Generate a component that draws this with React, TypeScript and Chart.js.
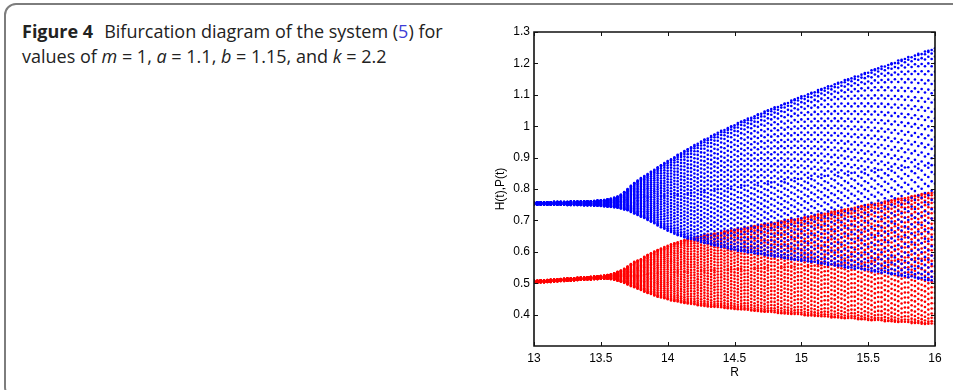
import React, { useEffect, useRef } from 'react';
import { Chart, registerables } from 'chart.js';

Chart.register(...registerables);

// Bifurcation parameter R (one column of orbit points per value)
const R_VALUES = [
  13.000, 13.025, 13.050, 13.075, 13.100, 13.125, 13.150, 13.175, 13.200, 13.225,
  13.250, 13.275, 13.300, 13.325, 13.350, 13.375, 13.400, 13.425, 13.450, 13.475,
  13.500, 13.525, 13.550, 13.575, 13.600, 13.625, 13.650, 13.675, 13.700, 13.725,
  13.750, 13.775, 13.800, 13.825, 13.850, 13.875, 13.900, 13.925, 13.950, 13.975,
  14.000, 14.025, 14.050, 14.075, 14.100, 14.125, 14.150, 14.175, 14.200, 14.225,
  14.250, 14.275, 14.300, 14.325, 14.350, 14.375, 14.400, 14.425, 14.450, 14.475,
  14.500, 14.525, 14.550, 14.575, 14.600, 14.625, 14.650, 14.675, 14.700, 14.725,
  14.750, 14.775, 14.800, 14.825, 14.850, 14.875, 14.900, 14.925, 14.950, 14.975,
  15.000, 15.025, 15.050, 15.075, 15.100, 15.125, 15.150, 15.175, 15.200, 15.225,
  15.250, 15.275, 15.300, 15.325, 15.350, 15.375, 15.400, 15.425, 15.450, 15.475,
  15.500, 15.525, 15.550, 15.575, 15.600, 15.625, 15.650, 15.675, 15.700, 15.725,
  15.750, 15.775, 15.800, 15.825, 15.850, 15.875, 15.900, 15.925, 15.950, 15.975,
  16.000,
];

// H(t): upper / lower extent of the orbit at each R
const H_UPPER = [
  0.758, 0.758, 0.758, 0.758, 0.758, 0.758, 0.759, 0.759, 0.759, 0.759,
  0.759, 0.760, 0.760, 0.760, 0.760, 0.761, 0.761, 0.761, 0.762, 0.763,
  0.764, 0.765, 0.767, 0.769, 0.772, 0.776, 0.782, 0.790, 0.800, 0.810,
  0.819, 0.827, 0.835, 0.842, 0.848, 0.855, 0.862, 0.869, 0.876, 0.883,
  0.889, 0.896, 0.902, 0.909, 0.915, 0.921, 0.927, 0.934, 0.940, 0.946,
  0.952, 0.958, 0.963, 0.969, 0.974, 0.980, 0.985, 0.990, 0.995, 1.000,
  1.005, 1.010, 1.015, 1.020, 1.024, 1.029, 1.033, 1.038, 1.042, 1.047,
  1.051, 1.056, 1.060, 1.064, 1.068, 1.073, 1.077, 1.082, 1.086, 1.091,
  1.095, 1.099, 1.103, 1.107, 1.111, 1.115, 1.119, 1.123, 1.127, 1.131,
  1.135, 1.139, 1.143, 1.147, 1.150, 1.154, 1.158, 1.162, 1.166, 1.170,
  1.174, 1.178, 1.182, 1.186, 1.190, 1.194, 1.197, 1.201, 1.205, 1.209,
  1.212, 1.216, 1.220, 1.224, 1.227, 1.231, 1.234, 1.238, 1.241, 1.245,
  1.248,
];
const H_LOWER = [
  0.750, 0.750, 0.750, 0.750, 0.750, 0.750, 0.750, 0.750, 0.750, 0.750,
  0.749, 0.749, 0.749, 0.749, 0.749, 0.748, 0.748, 0.748, 0.747, 0.747,
  0.746, 0.745, 0.744, 0.743, 0.742, 0.740, 0.738, 0.735, 0.732, 0.727,
  0.722, 0.717, 0.712, 0.707, 0.701, 0.696, 0.690, 0.684, 0.678, 0.673,
  0.667, 0.662, 0.657, 0.653, 0.649, 0.646, 0.642, 0.640, 0.638, 0.634,
  0.630, 0.628, 0.625, 0.623, 0.620, 0.618, 0.615, 0.613, 0.610, 0.608,
  0.605, 0.603, 0.602, 0.600, 0.598, 0.596, 0.594, 0.593, 0.591, 0.590,
  0.588, 0.586, 0.584, 0.583, 0.581, 0.579, 0.577, 0.576, 0.574, 0.573,
  0.571, 0.570, 0.568, 0.567, 0.565, 0.564, 0.562, 0.560, 0.558, 0.557,
  0.555, 0.554, 0.552, 0.551, 0.549, 0.548, 0.546, 0.545, 0.543, 0.542,
  0.540, 0.539, 0.537, 0.535, 0.533, 0.532, 0.530, 0.528, 0.526, 0.525,
  0.523, 0.521, 0.519, 0.518, 0.516, 0.514, 0.512, 0.511, 0.509, 0.507,
  0.505,
];

// P(t): upper / lower extent of the orbit at each R
const P_UPPER = [
  0.508, 0.508, 0.509, 0.509, 0.510, 0.511, 0.512, 0.512, 0.513, 0.514,
  0.515, 0.515, 0.516, 0.517, 0.518, 0.518, 0.519, 0.520, 0.521, 0.522,
  0.523, 0.524, 0.526, 0.528, 0.532, 0.536, 0.540, 0.546, 0.553, 0.561,
  0.568, 0.573, 0.577, 0.584, 0.590, 0.596, 0.601, 0.606, 0.611, 0.616,
  0.620, 0.624, 0.627, 0.631, 0.634, 0.637, 0.640, 0.643, 0.645, 0.648,
  0.650, 0.653, 0.655, 0.657, 0.659, 0.661, 0.663, 0.665, 0.667, 0.669,
  0.671, 0.673, 0.675, 0.677, 0.679, 0.681, 0.682, 0.684, 0.686, 0.688,
  0.690, 0.692, 0.693, 0.695, 0.697, 0.699, 0.701, 0.703, 0.704, 0.706,
  0.708, 0.710, 0.712, 0.714, 0.716, 0.719, 0.721, 0.723, 0.725, 0.727,
  0.729, 0.731, 0.733, 0.735, 0.737, 0.740, 0.742, 0.744, 0.746, 0.748,
  0.750, 0.752, 0.754, 0.756, 0.758, 0.760, 0.762, 0.765, 0.767, 0.769,
  0.771, 0.773, 0.775, 0.777, 0.779, 0.782, 0.784, 0.786, 0.788, 0.790,
  0.792,
];
const P_LOWER = [
  0.502, 0.502, 0.503, 0.503, 0.504, 0.504, 0.505, 0.506, 0.507, 0.507,
  0.508, 0.508, 0.509, 0.510, 0.511, 0.511, 0.512, 0.512, 0.513, 0.513,
  0.514, 0.514, 0.514, 0.513, 0.511, 0.508, 0.505, 0.501, 0.496, 0.491,
  0.487, 0.482, 0.478, 0.473, 0.469, 0.465, 0.461, 0.457, 0.454, 0.451,
  0.448, 0.445, 0.443, 0.441, 0.439, 0.437, 0.435, 0.433, 0.432, 0.430,
  0.429, 0.427, 0.426, 0.425, 0.424, 0.423, 0.422, 0.421, 0.420, 0.419,
  0.418, 0.417, 0.416, 0.415, 0.414, 0.413, 0.412, 0.411, 0.410, 0.409,
  0.408, 0.407, 0.406, 0.405, 0.404, 0.403, 0.403, 0.402, 0.401, 0.400,
  0.399, 0.398, 0.397, 0.396, 0.396, 0.395, 0.394, 0.393, 0.392, 0.391,
  0.391, 0.390, 0.389, 0.388, 0.388, 0.387, 0.386, 0.385, 0.385, 0.384,
  0.383, 0.382, 0.382, 0.381, 0.380, 0.379, 0.379, 0.378, 0.377, 0.376,
  0.376, 0.375, 0.374, 0.373, 0.373, 0.372, 0.371, 0.370, 0.370, 0.369,
  0.368,
];

// relative positions of the sampled orbit points inside a band (0 = lower edge, 1 = upper edge);
// four sets that take turns from one column to the next
const BAND_POS_0 = [
  0, 0.012, 0.035, 0.065, 0.1, 0.14, 0.18, 0.22, 0.26, 0.3, 0.34, 0.38, 0.42, 0.46, 0.5,
  0.54, 0.58, 0.62, 0.66, 0.7, 0.74, 0.78, 0.82, 0.86, 0.9, 0.935, 0.965, 0.988, 1,
];
const BAND_POS_1 = [
  0.003, 0.018, 0.042, 0.073, 0.11, 0.15, 0.19, 0.23, 0.27, 0.31, 0.35, 0.39, 0.43, 0.47, 0.5,
  0.53, 0.57, 0.61, 0.65, 0.69, 0.73, 0.77, 0.81, 0.85, 0.89, 0.927, 0.958, 0.982, 0.997,
];
const BAND_POS_2 = [
  0.006, 0.024, 0.05, 0.082, 0.12, 0.16, 0.2, 0.24, 0.28, 0.32, 0.36, 0.4, 0.44, 0.48,
  0.52, 0.56, 0.6, 0.64, 0.68, 0.72, 0.76, 0.8, 0.84, 0.88, 0.918, 0.95, 0.976, 0.994,
];
const BAND_POS_3 = [
  0.001, 0.006, 0.027, 0.056, 0.09, 0.13, 0.17, 0.21, 0.25, 0.29, 0.33, 0.37, 0.41, 0.45, 0.49,
  0.51, 0.55, 0.59, 0.63, 0.67, 0.71, 0.75, 0.79, 0.83, 0.87, 0.91, 0.944, 0.973, 0.994, 0.999,
];
const BAND_POS_SETS = [BAND_POS_0, BAND_POS_1, BAND_POS_2, BAND_POS_3];
// which set each successive column uses (repeats)
const SET_ORDER_H = [0, 2, 1, 3, 2, 0, 3, 1];
const SET_ORDER_P = [2, 0, 3, 1, 0, 3, 1, 2];

const X_TICKS = [13, 13.5, 14, 14.5, 15, 15.5, 16];
const Y_TICKS = [0.4, 0.5, 0.6, 0.7, 0.8, 0.9, 1, 1.1, 1.2, 1.3];

const BLUE = '#0000ff';
const RED = '#ff0000';
const AXIS_FONT = { family: 'Arial, "Liberation Sans", sans-serif', size: 12 };

const framePlugin = {
  id: 'matlabFrame',
  afterDatasetsDraw(chart: any) {
    const { ctx, chartArea, scales } = chart;
    const { left, right, top, bottom } = chartArea;
    const xs = scales.x;
    const ys = scales.y;
    ctx.save();
    ctx.strokeStyle = '#111';
    ctx.lineWidth = 1.6;
    const L = Math.round(left);
    const R = Math.round(right);
    const T = Math.round(top);
    const B = Math.round(bottom);
    ctx.beginPath();
    ctx.rect(L, T, R - L, B - T);
    ctx.stroke();
    const len = 4;
    ctx.lineWidth = 1;
    ctx.beginPath();
    X_TICKS.forEach((v) => {
      const px = Math.round(xs.getPixelForValue(v)) + 0.5;
      ctx.moveTo(px, B);
      ctx.lineTo(px, B - len);
      ctx.moveTo(px, T);
      ctx.lineTo(px, T + len);
    });
    Y_TICKS.forEach((v) => {
      const py = Math.round(ys.getPixelForValue(v)) + 0.5;
      ctx.moveTo(L, py);
      ctx.lineTo(L + len, py);
      ctx.moveTo(R, py);
      ctx.lineTo(R - len, py);
    });
    ctx.stroke();
    ctx.restore();
  },
};

function buildDatasets() {
  const sets: any[] = [];
  R_VALUES.forEach((r, i) => {
    const posH = BAND_POS_SETS[SET_ORDER_H[i % SET_ORDER_H.length]];
    const posP = BAND_POS_SETS[SET_ORDER_P[i % SET_ORDER_P.length]];
    sets.push({
      label: 'H(t)',
      data: posH.map((f) => ({ x: r, y: H_LOWER[i] + f * (H_UPPER[i] - H_LOWER[i]) })),
      backgroundColor: BLUE,
      borderWidth: 0,
      pointRadius: 1.3,
      pointHoverRadius: 0,
    });
    sets.push({
      label: 'P(t)',
      data: posP.map((f) => ({ x: r, y: P_LOWER[i] + f * (P_UPPER[i] - P_LOWER[i]) })),
      backgroundColor: RED,
      borderWidth: 0,
      pointRadius: 1.3,
      pointHoverRadius: 0,
    });
  });
  return sets;
}

function BifurcationChart() {
  const ref = useRef<HTMLCanvasElement | null>(null);
  useEffect(() => {
    if (!ref.current) return;
    const chart = new Chart(ref.current, {
      type: 'scatter',
      data: { datasets: buildDatasets() },
      options: {
        animation: false,
        responsive: false,
        devicePixelRatio: 1,
        events: [],
        layout: { padding: { left: 0, top: 32, right: 18, bottom: 0 } },
        plugins: { legend: { display: false }, tooltip: { enabled: false } },
        scales: {
          x: {
            type: 'linear',
            min: 13,
            max: 16,
            afterBuildTicks: (scale: any) => {
              scale.ticks = X_TICKS.map((v) => ({ value: v }));
            },
            afterFit: (scale: any) => {
              scale.height = 44;
            },
            grid: { display: false, drawTicks: false },
            border: { display: false },
            ticks: {
              color: '#000',
              font: AXIS_FONT,
              padding: 5,
              maxRotation: 0,
              autoSkip: false,
              callback: (v: any) => String(v),
            },
            title: {
              display: true,
              text: 'R',
              color: '#000',
              font: AXIS_FONT,
              padding: { top: 0, bottom: 10 },
            },
          },
          y: {
            type: 'linear',
            min: 0.3,
            max: 1.3,
            afterBuildTicks: (scale: any) => {
              scale.ticks = Y_TICKS.map((v) => ({ value: v }));
            },
            afterFit: (scale: any) => {
              scale.width = 54;
            },
            grid: { display: false, drawTicks: false },
            border: { display: false },
            ticks: {
              color: '#000',
              font: AXIS_FONT,
              padding: 4,
              autoSkip: false,
              callback: (v: any) => String(Math.round(v * 10) / 10),
            },
            title: {
              display: true,
              text: 'H(t),P(t)',
              color: '#000',
              font: AXIS_FONT,
              padding: { top: 13, bottom: 0 },
            },
          },
        },
      },
      plugins: [framePlugin],
    } as any);
    return () => chart.destroy();
  }, []);
  return <canvas ref={ref} width={473} height={390} style={{ display: 'block' }} />;
}

export default function App() {
  const capFont = '"Open Sans", "Noto Sans", sans-serif';
  return (
    <div style={{ position: 'absolute', left: 0, top: 0, width: 953, height: 390, overflow: 'hidden', background: '#fff' }}>
      <div
        style={{
          position: 'absolute',
          left: 4,
          top: 3,
          width: 980,
          height: 396,
          border: '2px solid #7d7d7d',
          borderRadius: 12,
          boxSizing: 'border-box',
        }}
      />
      <div
        style={{
          position: 'absolute',
          left: 22,
          top: 19,
          width: 440,
          fontFamily: capFont,
          fontSize: 18,
          lineHeight: '25px',
          color: '#222',
          whiteSpace: 'nowrap',
        }}
      >
        <div>
          <span style={{ fontWeight: 700 }}>Figure 4</span>
          <span style={{ marginLeft: 11 }}>Bifurcation diagram of the system (</span>
          <span style={{ color: '#3d3dd6' }}>5</span>
          <span>) for</span>
        </div>
        <div>
          values of <i>m</i> = 1, <i>a</i> = 1.1, <i>b</i> = 1.15, and <i>k</i> = 2.2
        </div>
      </div>
      <div style={{ position: 'absolute', left: 480, top: 0, width: 473, height: 390 }}>
        <BifurcationChart />
      </div>
    </div>
  );
}
